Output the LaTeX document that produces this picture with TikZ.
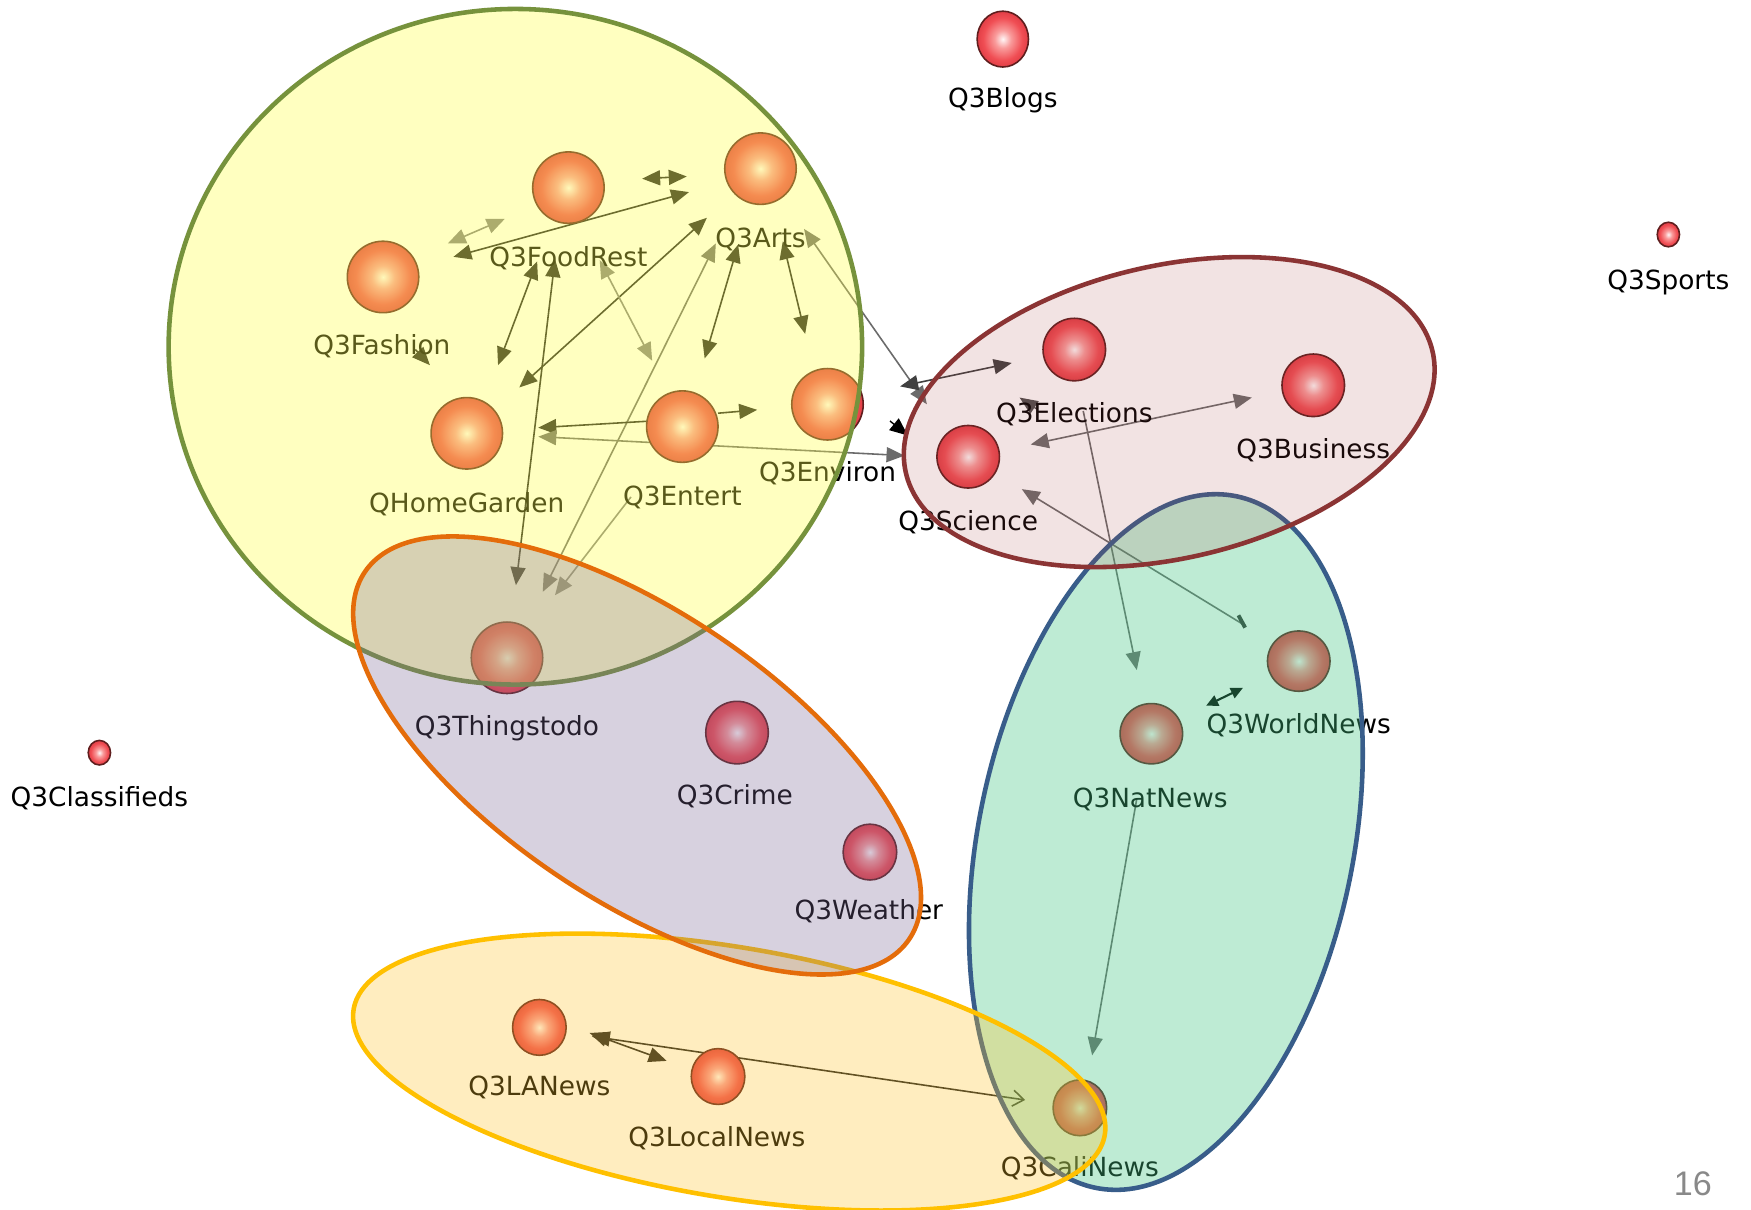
\documentclass[tikz,border=0pt]{standalone}
\usepackage{fontspec}
\setmainfont{DejaVu Sans}
\newfontfamily\pagenumfont{Liberation Sans}
\usetikzlibrary{arrows.meta,shapes.geometric}

% sphere colours
\definecolor{ballhi}{RGB}{255,246,246}
\definecolor{ballmid}{RGB}{249,155,155}
\definecolor{ballout}{RGB}{240,78,84}
\definecolor{balledge}{RGB}{226,62,70}
\definecolor{ballrim}{RGB}{95,30,30}
% group colours (translucent fills, opaque rims)
\definecolor{culfill}{RGB}{255,255,75}
\definecolor{culline}{RGB}{118,146,60}
\definecolor{polfill}{RGB}{170,70,70}
\definecolor{polline}{RGB}{139,52,52}
\definecolor{cityfill}{RGB}{125,105,152}
\definecolor{cityline}{RGB}{228,108,10}
\definecolor{newsfill}{RGB}{69,198,132}
\definecolor{newsline}{RGB}{56,93,138}
\definecolor{locfill}{RGB}{255,198,45}
\definecolor{locline}{RGB}{255,192,0}
\definecolor{pagegrey}{RGB}{137,137,137}

\pgfdeclareradialshading{nodeball}{\pgfpoint{0bp}{0bp}}{color(0bp)=(ballhi); color(8bp)=(ballmid); color(19bp)=(ballout); color(25bp)=(balledge); color(50bp)=(balledge)}

\tikzset{
  ball/.style 2 args={ellipse, draw=ballrim, line width=0.45pt, shade, shading=nodeball,
    inner sep=0pt, minimum width=#1*0.011167cm, minimum height=#2*0.011167cm},
  lbl/.style={font=\fontsize{7.5}{9}\selectfont, inner sep=0pt, text height=0.73em, text depth=0pt,
    yshift=0.025cm},
  wdark/.style={draw=black!88, line width=0.45pt},
  wlite/.style={draw=black!50, line width=0.45pt},
  wgrey/.style={draw=black!58, line width=0.45pt},
  grp/.style={line width=1.3pt},
  smalltips/.style={>={Triangle[length=1.2mm,width=1.1mm]}},
  pagenum/.style={font=\pagenumfont\fontsize{9.7}{11}\selectfont, text=pagegrey, inner sep=0pt}
}

\begin{document}
\begin{tikzpicture}[x=0.011167cm, y=-0.011167cm, >={Triangle[length=1.8mm,width=1.5mm]}]
\fill[white] (0,0) rectangle (1568,1083);
\useasboundingbox (0,0) rectangle (1568,1083);

% ---- edge end points ----
\coordinate (fa1) at (575,160);  \coordinate (fa2) at (615,158);
\coordinate (lg1) at (406,230);  \coordinate (lg2) at (617,172);
\coordinate (sh1) at (401,218);  \coordinate (sh2) at (452,196);
\coordinate (fh1) at (481,234);  \coordinate (fh2) at (446,327);
\coordinate (ft1) at (497,232);  \coordinate (ft2) at (462,524);
\coordinate (ah1) at (633,195);  \coordinate (ah2) at (465,347);
\coordinate (fe1) at (537,233);  \coordinate (fe2) at (584,323);
\coordinate (at1) at (641,218);  \coordinate (at2) at (486,530);
\coordinate (et1) at (565,445);  \coordinate (et2) at (497,533);
\coordinate (ae1) at (661,219);  \coordinate (ae2) at (631,321);
\coordinate (av1) at (701,216);  \coordinate (av2) at (721,299);
\coordinate (ap1) at (720,205);  \coordinate (ap2) at (830,362);
\coordinate (eh1) at (583,377);  \coordinate (eh2) at (482,383);
\coordinate (hs1) at (482,391);  \coordinate (hs2) at (810,408);
\coordinate (ee1) at (643,370);  \coordinate (ee2) at (678,367);
\coordinate (fs1) at (372,313);  \coordinate (fs2) at (385,327);
\coordinate (pe1) at (806,346);  \coordinate (pe2) at (906,325);
\coordinate (bk1) at (797,377);  \coordinate (bk2) at (813,390);
\coordinate (el1) at (928,366);  \coordinate (el2) at (913,356);
\coordinate (en1) at (970,368);  \coordinate (en2) at (1018,600);
\coordinate (bs1) at (923,398);  \coordinate (bs2) at (1121,356);
\coordinate (ws1) at (1113,559); \coordinate (ws2) at (915,438);
\coordinate (tk1) at (1109,551); \coordinate (tk2) at (1115,562);
\coordinate (nw1) at (1080,632); \coordinate (nw2) at (1113,616);
\coordinate (nc1) at (1018,715); \coordinate (nc2) at (978,945);
\coordinate (ll1) at (528,925);  \coordinate (ll2) at (597,950);
\coordinate (lc1) at (530,928);  \coordinate (lc2) at (918,985);

% ---- edges ----
\draw[wdark,<->] (fa1) -- (fa2);
\draw[wdark,<->] (lg1) -- (lg2);
\draw[wlite,<->] (sh1) -- (sh2);
\draw[wdark,<->] (fh1) -- (fh2);
\draw[wdark,<->] (ft1) -- (ft2);
\draw[wdark,<->] (ah1) -- (ah2);
\draw[wlite,<->] (fe1) -- (fe2);
\draw[wgrey,<->] (at1) -- (at2);
\draw[wlite,->]  (et1) -- (et2);
\draw[wdark,<->] (ae1) -- (ae2);
\draw[wdark,<->] (av1) -- (av2);
\draw[wgrey,<->] (ap1) -- (ap2);
\draw[wdark,->]  (eh1) -- (eh2);
\draw[wgrey,<->] (hs1) -- (hs2);
\draw[wdark,->]  (ee1) -- (ee2);
\draw[wdark,->]  (fs1) -- (fs2);
\draw[draw=black!75, line width=0.45pt,<->] (pe1) -- (pe2);
\draw[draw=black,->] (bk1) -- (bk2);
\draw[draw=black!70,->] (el1) -- (el2);
\draw[wgrey,->]  (en1) -- (en2);
\draw[wgrey,<->] (bs1) -- (bs2);
\draw[wgrey,->]  (ws1) -- (ws2);
\draw[draw=black!80, line width=1.1pt] (tk1) -- (tk2);
\draw[draw=black, line width=0.6pt, smalltips, <->] (nw1) -- (nw2);
\draw[wgrey,->]  (nc1) -- (nc2);
\draw[wdark,<->] (ll1) -- (ll2);
\draw[wdark,{Triangle[length=1.8mm,width=1.5mm]}-{Straight Barb[length=1.1mm,width=1.6mm]}] (lc1) -- (lc2);

% ---- spheres ----
\node[ball={46}{50}] (blogs) at (898,35) {};
\node[ball={20}{22}] (sports) at (1494,210) {};
\node[ball={20}{22}] (classif) at (89,674) {};
\node[ball={64}{64}] (foodrest) at (509,168) {};
\node[ball={64}{64}] (arts) at (681,151) {};
\node[ball={64}{64}] (fashion) at (343,248) {};
\node[ball={64}{64}] (homegarden) at (418,388) {};
\node[ball={64}{64}] (entert) at (611,382) {};
\node[ball={64}{64}] (environ) at (741,362) {};
\node[ball={56}{56}] (elections) at (962,313) {};
\node[ball={56}{56}] (business) at (1176,345) {};
\node[ball={56}{56}] (science) at (867,409) {};
\node[ball={64}{64}] (thingstodo) at (454,589) {};
\node[ball={56}{56}] (crime) at (660,656) {};
\node[ball={48}{50}] (weather) at (779,763) {};
\node[ball={56}{54}] (natnews) at (1031,657) {};
\node[ball={56}{54}] (worldnews) at (1163,592) {};
\node[ball={48}{50}] (calinews) at (967,992) {};
\node[ball={48}{50}] (lanews) at (483,920) {};
\node[ball={48}{50}] (localnews) at (643,964) {};

% ---- labels ----
\node[lbl] (blogsl) at (898,87) {Q3Blogs};
\node[lbl] (sportsl) at (1494,250) {Q3Sports};
\node[lbl] (classifl) at (89,713) {Q3Classifieds};
\node[lbl] (foodrestl) at (509,229) {Q3FoodRest};
\node[lbl] (artsl) at (681,212) {Q3Arts};
\node[lbl] (fashionl) at (342,308) {Q3Fashion};
\node[lbl] (homegardenl) at (418,450) {QHomeGarden};
\node[lbl] (entertl) at (611,443) {Q3Entert};
\node[lbl] (environl) at (741,422) {Q3Environ};
\node[lbl] (electionsl) at (962,369) {Q3Elections};
\node[lbl] (businessl) at (1176,401) {Q3Business};
\node[lbl] (sciencel) at (867,466) {Q3Science};
\node[lbl] (thingstodol) at (454,649) {Q3Thingstodo};
\node[lbl] (crimel) at (658,711) {Q3Crime};
\node[lbl] (weatherl) at (778,814) {Q3Weather};
\node[lbl] (natnewsl) at (1030,714) {Q3NatNews};
\node[lbl] (worldnewsl) at (1163,648) {Q3WorldNews};
\node[lbl] (calinewsl) at (967,1044) {Q3CaliNews};
\node[lbl] (lanewsl) at (483,972) {Q3LANews};
\node[lbl] (localnewsl) at (642,1017) {Q3LocalNews};

% ---- translucent groups ----
\filldraw[grp, draw=newsline, fill=newsfill, fill opacity=.35, rotate around={-11.5:(1044,754)}]
  (1044,754) ellipse [x radius=168, y radius=316];
\filldraw[grp, draw=locline, fill=locfill, fill opacity=.3, rotate around={-9.5:(653,960)}]
  (653,960) ellipse [x radius=341, y radius=112];
\filldraw[grp, draw=culline, fill=culfill, fill opacity=.35]
  (461.5,310.5) ellipse [x radius=310.5, y radius=302.5];
\filldraw[grp, draw=cityline, fill=cityfill, fill opacity=.3, rotate around={-34:(570.5,676.5)}]
  (570.5,676.5) ellipse [x radius=294, y radius=129];
\filldraw[grp, draw=polline, fill=polfill, fill opacity=.15, rotate around={13:(1047,369)}]
  (1047,369) ellipse [x radius=242, y radius=131];

\node[pagenum] (pageno) at (1516,1060) {16};
\end{tikzpicture}
\end{document}
